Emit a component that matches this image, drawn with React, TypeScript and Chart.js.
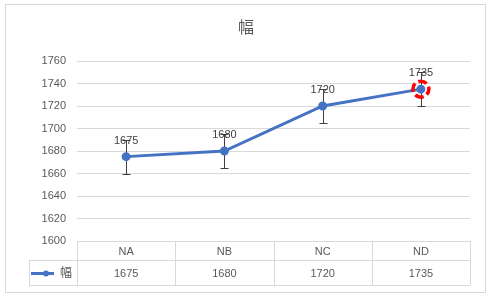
import React, { useEffect, useRef } from "react";
import { Chart, registerables } from "chart.js";

Chart.register(...registerables);

const categories = ["NA", "NB", "NC", "ND"];
const seriesName = "幅";
const values = [1675, 1680, 1720, 1735];
const errorPlus = [15, 15, 15, 15];
const errorMinus = [15, 15, 15, 15];
const yTicks = [1600, 1620, 1640, 1660, 1680, 1700, 1720, 1740, 1760];
const highlightIndex = 3;

const FONT = "'Liberation Sans', 'Noto Sans CJK JP', sans-serif";
const GRID = "#d9d9d9";
const TEXT = "#595959";
const LINE = "#4472C4";

const overlay = {
  id: "excelOverlay",
  beforeDatasetsDraw(chart: any) {
    const ctx = chart.ctx;
    const meta = chart.getDatasetMeta(0);
    const y = chart.scales.y;
    ctx.save();
    ctx.strokeStyle = "#404040";
    ctx.lineWidth = 1;
    meta.data.forEach((pt: any, i: number) => {
      const x = Math.round(pt.x) + 0.5;
      const yt = Math.round(y.getPixelForValue(values[i] + errorPlus[i])) + 0.5;
      const yb = Math.round(y.getPixelForValue(values[i] - errorMinus[i])) + 0.5;
      ctx.beginPath();
      ctx.moveTo(x, yt);
      ctx.lineTo(x, yb);
      ctx.moveTo(x - 4, yt);
      ctx.lineTo(x + 4, yt);
      ctx.moveTo(x - 4, yb);
      ctx.lineTo(x + 4, yb);
      ctx.stroke();
    });
    ctx.restore();
  },
  afterDraw(chart: any) {
    const ctx = chart.ctx;
    const area = chart.chartArea;
    const meta = chart.getDatasetMeta(0);
    ctx.save();
    // outer border
    ctx.strokeStyle = GRID;
    ctx.lineWidth = 1;
    ctx.strokeRect(5.5, 4.5, 480, 288);
    // title
    ctx.fillStyle = TEXT;
    ctx.font = `16px ${FONT}`;
    ctx.textAlign = "center";
    ctx.textBaseline = "middle";
    ctx.fillText(seriesName, 246, 29);

    // data labels
    ctx.fillStyle = "#404040";
    ctx.font = `11px ${FONT}`;
    meta.data.forEach((pt: any, i: number) => {
      ctx.fillText(String(values[i]), pt.x, pt.y - 16);
    });

    // highlight ring
    const hp = meta.data[highlightIndex];
    ctx.strokeStyle = "#ff0000";
    ctx.lineWidth = 3.5;
    ctx.setLineDash([9, 3.6]);
    ctx.lineDashOffset = 3;
    ctx.beginPath();
    ctx.arc(hp.x, hp.y, 8, 0, Math.PI * 2);
    ctx.stroke();
    ctx.setLineDash([]);

    // data table
    const left = area.left;
    const right = area.right;
    const top = area.bottom;
    const r1 = top + 19;
    const r2 = top + 44;
    const legLeft = 29;
    const colW = (right - left) / categories.length;
    ctx.strokeStyle = GRID;
    ctx.lineWidth = 1;
    ctx.beginPath();
    ctx.moveTo(left, Math.round(top) + 0.5);
    ctx.lineTo(right, Math.round(top) + 0.5);
    ctx.moveTo(legLeft, Math.round(r1) + 0.5);
    ctx.lineTo(right, Math.round(r1) + 0.5);
    ctx.moveTo(legLeft, Math.round(r2) + 0.5);
    ctx.lineTo(right, Math.round(r2) + 0.5);
    for (let i = 0; i <= categories.length; i++) {
      const x = Math.round(left + colW * i) + 0.5;
      ctx.moveTo(x, top);
      ctx.lineTo(x, r2);
    }
    ctx.moveTo(legLeft + 0.5, r1);
    ctx.lineTo(legLeft + 0.5, r2);
    ctx.stroke();

    ctx.fillStyle = TEXT;
    ctx.font = `11px ${FONT}`;
    ctx.textAlign = "center";
    ctx.textBaseline = "middle";
    categories.forEach((c, i) => {
      const cx = left + colW * (i + 0.5);
      ctx.fillText(c, cx, (top + r1) / 2 + 1);
      ctx.fillText(String(values[i]), cx, (r1 + r2) / 2 + 1);
    });
    // legend key
    const ly = Math.round((r1 + r2) / 2) + 0.5;
    ctx.strokeStyle = LINE;
    ctx.lineWidth = 3;
    ctx.beginPath();
    ctx.moveTo(31, ly);
    ctx.lineTo(54, ly);
    ctx.stroke();
    ctx.fillStyle = LINE;
    ctx.beginPath();
    ctx.arc(46, ly, 3, 0, Math.PI * 2);
    ctx.fill();
    ctx.fillStyle = TEXT;
    ctx.font = `12px ${FONT}`;
    ctx.fillText(seriesName, 66, ly);
    ctx.restore();
  },
};

export default function App() {
  const ref = useRef<HTMLCanvasElement>(null);
  useEffect(() => {
    document.body.style.margin = "0";
    const chart = new Chart(ref.current!, {
      type: "line",
      data: {
        labels: categories,
        datasets: [
          {
            label: seriesName,
            data: values,
            borderColor: LINE,
            backgroundColor: LINE,
            borderWidth: 3,
            pointRadius: 3,
            pointBackgroundColor: LINE,
            pointBorderColor: LINE,
            tension: 0,
          },
        ],
      },
      options: {
        animation: false,
        responsive: false,
        devicePixelRatio: 1,
        layout: { padding: { left: 0, right: 21, top: 61, bottom: 57 } },
        plugins: {
          legend: { display: false },
          title: { display: false },
          tooltip: { enabled: false },
        },
        scales: {
          x: { display: false, offset: true },
          y: {
            min: 1600,
            max: 1760,
            afterBuildTicks: (s: any) => {
              s.ticks = yTicks.map((v) => ({ value: v }));
            },
            afterFit: (s: any) => {
              s.width = 77;
            },
            border: { display: false },
            grid: { color: GRID, drawTicks: false },
            ticks: {
              color: TEXT,
              padding: 11,
              font: { family: FONT, size: 11 },
              callback: (v: any) => String(v),
            },
          },
        },
      },
      plugins: [overlay],
    });
    return () => chart.destroy();
  }, []);
  return (
    <div style={{ position: "fixed", left: 0, top: 0, width: 491, height: 298, background: "#fff" }}>
      <canvas ref={ref} width={491} height={298} style={{ width: 491, height: 298 }} />
    </div>
  );
}
